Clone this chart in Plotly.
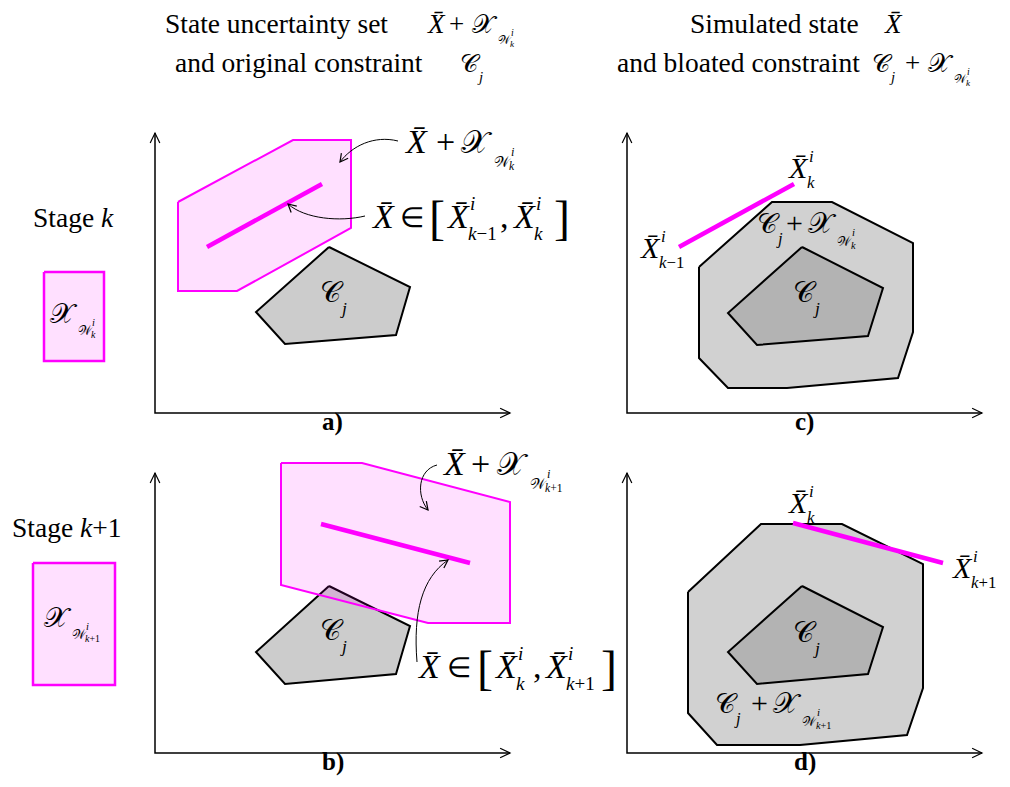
import math
import plotly.graph_objects as go

W, H = 1010, 787
SERIF = "Liberation Serif, Times New Roman, serif"
MAGENTA = "#ff00ff"
PINK_FILL = "rgba(255,0,255,0.12)"
GRAY = "#cccccc"
GRAY_LIGHT = "#d1d1d1"
GRAY_DARK = "#b3b3b3"

# ---------------- data: vertex lists (pixel-space diagram coordinates) ----------------
box_k_x = [44, 104, 104, 44]
box_k_y = [272, 272, 361, 361]
box_k1_x = [33, 115, 115, 33]
box_k1_y = [563, 563, 685, 685]

set_a_x = [178, 293, 351, 351, 237, 178]
set_a_y = [202, 140, 140, 228, 291, 291]
traj_a_x = [207, 322]
traj_a_y = [247, 184]
cj_a_x = [329, 410, 396, 285, 256]
cj_a_y = [247, 287, 335, 344, 312]

set_b_x = [281, 362, 510, 510, 428, 281]
set_b_y = [463, 463, 502, 623, 623, 585]
traj_b_x = [321, 470]
traj_b_y = [524, 563]
cj_b_x = [329, 410, 396, 285, 256]
cj_b_y = [586, 626, 674, 684, 652]

bloat_c_x = [699, 772, 832, 913, 913, 898, 787, 728, 699]
bloat_c_y = [267, 202, 202, 243, 332, 378, 388, 388, 358]
cj_c_x = [802, 883, 868, 757, 728]
cj_c_y = [247, 288, 336, 345, 313]
traj_c_x = [679, 794]
traj_c_y = [247, 184]

bloat_d_x = [688, 761, 842, 923, 923, 907, 800, 717, 688]
bloat_d_y = [592, 524, 524, 564, 688, 735, 745, 745, 713]
cj_d_x = [802, 883, 868, 757, 728]
cj_d_y = [586, 627, 674, 684, 652]
traj_d_x = [793, 943]
traj_d_y = [523, 563]

# axes: (origin x, origin y, top y, right x)
axes_a = (155, 413, 133, 510)
axes_b = (155, 753, 473, 510)
axes_c = (627, 413, 133, 982)
axes_d = (627, 753, 473, 982)

fig = go.Figure()


def poly(xs, ys, fill, line, width):
    fig.add_trace(go.Scatter(x=xs + [xs[0]], y=ys + [ys[0]], mode="lines", fill="toself",
                             fillcolor=fill, line=dict(color=line, width=width),
                             hoverinfo="skip", showlegend=False))


def seg(xs, ys, color, width):
    fig.add_trace(go.Scatter(x=xs, y=ys, mode="lines", line=dict(color=color, width=width),
                             hoverinfo="skip", showlegend=False))


def head(tip, ux, uy, size=10, ang=25):
    a = math.radians(ang)
    pts = []
    for s in (a, -a):
        rx = ux * math.cos(s) - uy * math.sin(s)
        ry = ux * math.sin(s) + uy * math.cos(s)
        pts.append((tip[0] - size * rx, tip[1] - size * ry))
    path = f"M {pts[0][0]},{pts[0][1]} L {tip[0]},{tip[1]} L {pts[1][0]},{pts[1][1]}"
    fig.add_shape(type="path", path=path, xref="x", yref="y",
                  line=dict(color="black", width=1.2))


def axes(ax):
    ox, oy, top, right = ax
    fig.add_shape(type="path", path=f"M {ox},{top} L {ox},{oy} L {right},{oy}",
                  xref="x", yref="y", line=dict(color="black", width=1.5))
    head((ox, top), 0, -1, 11, 26)
    head((right, oy), 1, 0, 11, 26)


def curve(p0, c1, c2, p3):
    path = f"M {p0[0]},{p0[1]} C {c1[0]},{c1[1]} {c2[0]},{c2[1]} {p3[0]},{p3[1]}"
    fig.add_shape(type="path", path=path, xref="x", yref="y",
                  line=dict(color="black", width=1))
    dx, dy = p3[0] - c2[0], p3[1] - c2[1]
    L = math.hypot(dx, dy)
    head(p3, dx / L, dy / L, 9, 28)


def T(x, b, s, size, it=False, bold=False, anchor="left"):
    txt = s
    if it:
        txt = f"<i>{txt}</i>"
    if bold:
        txt = f"<b>{txt}</b>"
    fig.add_annotation(x=x, y=b - 0.34 * size, xref="x", yref="y", text=txt,
                       showarrow=False, xanchor=anchor, yanchor="middle",
                       borderpad=0, borderwidth=0,
                       font=dict(family=SERIF, size=size, color="black"))


def XB(x, b, s, sup=None, sub=None):
    T(x, b, "X\u0304", s, it=True)
    if sup:
        T(x + 0.7 * s, b - 0.52 * s, sup, 0.56 * s, it=True)
    if sub:
        T(x + 0.64 * s, b + 0.34 * s, sub, 0.56 * s)


def XW(x, b, s, sub="<i>k</i>"):
    T(x, b, "\U0001D4B3", 0.95 * s)
    T(x + 0.98 * s, b + 0.42 * s, "\U0001D4B2", 0.44 * s)
    T(x + 1.46 * s, b + 0.1 * s, "i", 0.36 * s, it=True)
    T(x + 1.42 * s, b + 0.52 * s, sub, 0.34 * s)


def CJ(x, b, s):
    T(x, b, "\U0001D49E", 0.92 * s)
    T(x + 0.62 * s, b + 0.36 * s, "j", 0.55 * s, it=True)


# ---------------- left boxes ----------------
poly(box_k_x, box_k_y, PINK_FILL, MAGENTA, 2.5)
poly(box_k1_x, box_k1_y, PINK_FILL, MAGENTA, 2.5)

# ---------------- panel a ----------------
poly(set_a_x, set_a_y, PINK_FILL, MAGENTA, 2)
poly(cj_a_x, cj_a_y, GRAY, "black", 2)
seg(traj_a_x, traj_a_y, MAGENTA, 4.5)

# ---------------- panel b ----------------
poly(cj_b_x, cj_b_y, GRAY, "black", 2)
poly(set_b_x, set_b_y, PINK_FILL, MAGENTA, 2)
seg(traj_b_x, traj_b_y, MAGENTA, 4.5)

# ---------------- panel c ----------------
poly(bloat_c_x, bloat_c_y, GRAY_LIGHT, "black", 2)
poly(cj_c_x, cj_c_y, GRAY_DARK, "black", 2)
seg(traj_c_x, traj_c_y, MAGENTA, 4.5)

# ---------------- panel d ----------------
poly(bloat_d_x, bloat_d_y, GRAY_LIGHT, "black", 2)
poly(cj_d_x, cj_d_y, GRAY_DARK, "black", 2)
seg(traj_d_x, traj_d_y, MAGENTA, 4.5)

for ax in (axes_a, axes_b, axes_c, axes_d):
    axes(ax)

# curved annotation arrows
curve((398, 141), (374, 135), (352, 146), (340, 162))
curve((365, 216), (340, 222), (305, 219), (288, 204))
curve((437, 465), (418, 470), (416, 495), (428, 510))
curve((417, 662), (413, 612), (422, 578), (448, 560))

# ---------------- titles ----------------
T(165, 33, "State uncertainty set", 27.5)
XB(427, 33, 27)
T(449, 33, "+", 27)
XW(472, 33, 27)
T(175, 72, "and original constraint", 27.5)
CJ(460, 72, 27)

T(690, 33, "Simulated state", 27.5)
XB(884, 33, 27)
T(617, 72, "and bloated constraint", 27.5)
CJ(872, 72, 27)
T(905, 72, "+", 27)
XW(928, 72, 27)

# ---------------- stage labels ----------------
T(33, 227, "Stage <i>k</i>", 27.5)
T(12, 537, "Stage <i>k</i>+1", 27.5)
XW(50, 323, 29)
XW(44, 627, 29, "<i>k</i>+1")

# ---------------- panel a labels ----------------
XB(404, 153, 34)
T(436, 153, "+", 34)
XW(461, 153, 34)
XB(371, 228, 34)
T(400, 227, "\u2208", 28)
T(429, 234, "[", 48)
XB(446, 228, 34, "i", "<i>k</i>\u22121")
T(500, 228, ",", 34)
XB(512, 228, 34, "i", "<i>k</i>")
T(554, 234, "]", 48)
CJ(320, 302, 32)
T(332, 430, "a)", 25, bold=True, anchor="center")

# ---------------- panel b labels ----------------
XB(442, 475, 34)
T(471, 475, "+", 34)
XW(497, 475, 34, "<i>k</i>+1")
XB(417, 678, 34)
T(447, 677, "\u2208", 28)
T(477, 684, "[", 48)
XB(494, 678, 34, "i", "<i>k</i>")
T(533, 678, ",", 34)
XB(544, 678, 34, "i", "<i>k</i>+1")
T(601, 684, "]", 48)
CJ(320, 640, 32)
T(333, 770, "b)", 25, bold=True, anchor="center")

# ---------------- panel c labels ----------------
XB(788, 178, 30, "i", "<i>k</i>")
XB(640, 258, 30, "i", "<i>k</i>\u22121")
CJ(757, 233, 30)
T(786, 233, "+", 30)
XW(808, 233, 30)
CJ(793, 302, 32)
T(804, 430, "c)", 25, bold=True, anchor="center")

# ---------------- panel d labels ----------------
XB(788, 513, 30, "i", "<i>k</i>")
XB(952, 578, 30, "i", "<i>k</i>+1")
CJ(793, 642, 32)
CJ(715, 713, 30)
T(751, 713, "+", 30)
XW(773, 713, 30, "<i>k</i>+1")
T(805, 770, "d)", 25, bold=True, anchor="center")

fig.update_layout(
    width=W, height=H,
    margin=dict(l=0, r=0, t=0, b=0),
    paper_bgcolor="white", plot_bgcolor="white",
    xaxis=dict(range=[0, W], visible=False, fixedrange=True),
    yaxis=dict(range=[H, 0], visible=False, fixedrange=True),
    showlegend=False,
)

fig.write_html("out.html")
